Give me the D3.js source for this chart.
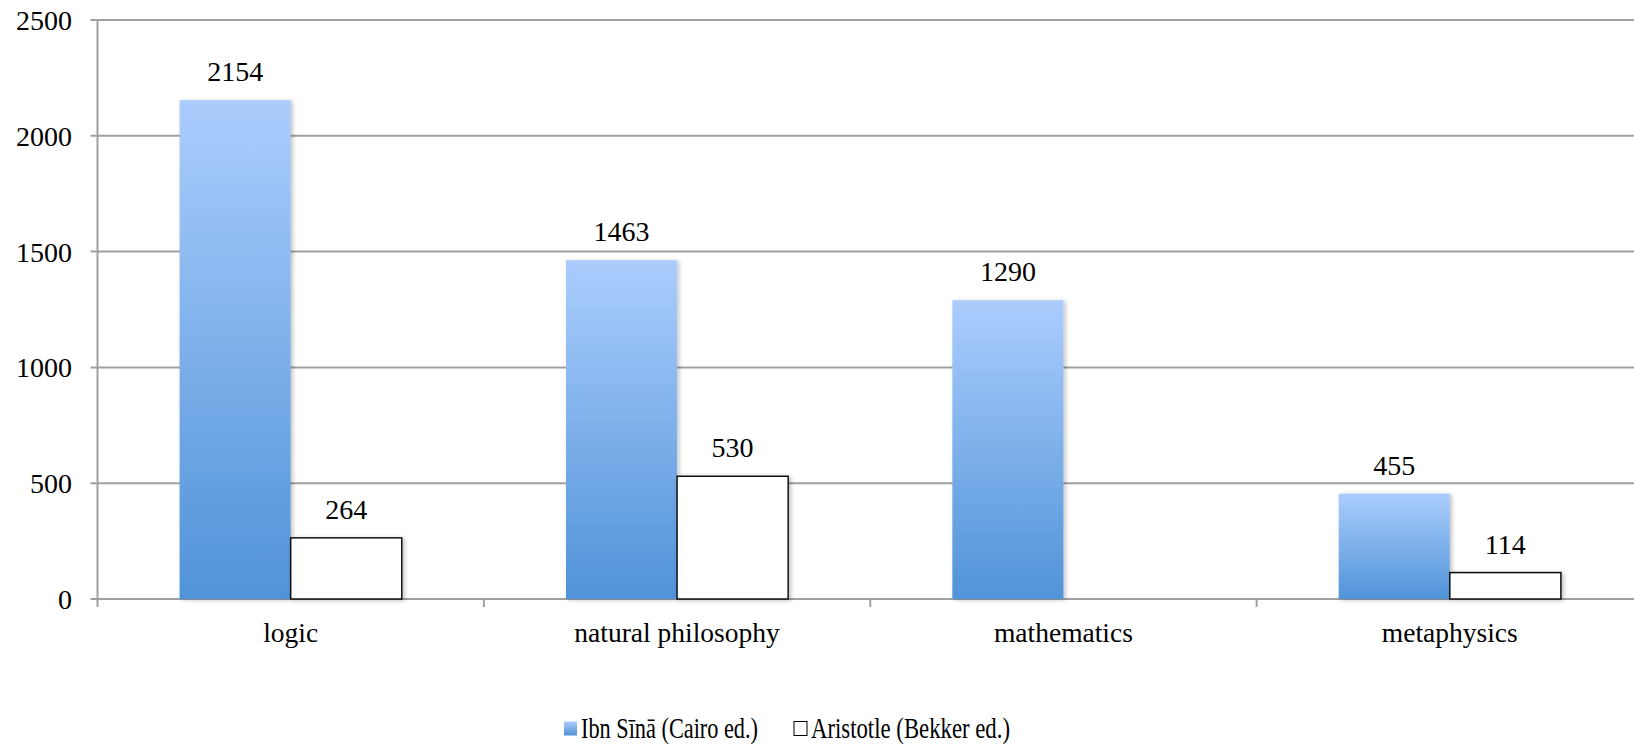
<!DOCTYPE html>
<html>
<head>
<meta charset="utf-8">
<script src="https://cdn.jsdelivr.net/npm/d3@7"></script>
<style>
  html, body { margin: 0; padding: 0; background: #ffffff; }
  svg { display: block; }
  .serif { font-family: "Liberation Serif", "Tinos", "DejaVu Serif", serif; }
</style>
</head>
<body>
<svg id="chart" width="1634" height="748"></svg>
<script>
// Page counts per discipline
const categories = ["logic", "natural philosophy", "mathematics", "metaphysics"];
const ibnSina = [2154, 1463, 1290, 455];
const aristotle = [264, 530, null, 114];
const seriesNames = ["Ibn Sīnā (Cairo ed.)", "Aristotle (Bekker ed.)"];
const yTicks = [0, 500, 1000, 1500, 2000, 2500];

const svg = d3.select("#chart");
const W = 1634, H = 748;
const plot = { left: 97.5, right: 1643, top: 20, bottom: 599 };

const x = d3.scaleBand().domain(categories).range([plot.left, plot.right]).paddingInner(0).paddingOuter(0);
const y = d3.scaleLinear().domain([0, 2500]).range([plot.bottom, plot.top]);

const defs = svg.append("defs");
const grad = defs.append("linearGradient")
  .attr("id", "blueGrad").attr("x1", 0).attr("y1", 0).attr("x2", 0).attr("y2", 1);
grad.append("stop").attr("offset", "0%").attr("stop-color", "#abcdfd");
grad.append("stop").attr("offset", "100%").attr("stop-color", "#5093d8");

const shadow = defs.append("filter").attr("id", "shadow")
  .attr("x", "-10%").attr("y", "-10%").attr("width", "130%").attr("height", "130%");
shadow.append("feDropShadow").attr("dx", 2).attr("dy", 1).attr("stdDeviation", 2)
  .attr("flood-color", "#000").attr("flood-opacity", 0.25);

// Horizontal gridlines (clipped at the page edge)
svg.append("g").selectAll("line").data(yTicks).join("line")
  .attr("x1", plot.left - 7).attr("x2", W)
  .attr("y1", d => y(d)).attr("y2", d => y(d))
  .attr("stroke", "#a0a0a0").attr("stroke-width", 2);

// Y axis line
svg.append("line")
  .attr("x1", plot.left).attr("x2", plot.left)
  .attr("y1", plot.top).attr("y2", plot.bottom + 8)
  .attr("stroke", "#a0a0a0").attr("stroke-width", 2);

// Category boundary ticks along x axis
const bounds = categories.map(c => x(c)).concat([x(categories[categories.length - 1]) + x.bandwidth()]);
svg.append("g").selectAll("line").data(bounds.slice(1)).join("line")
  .attr("x1", d => d).attr("x2", d => d)
  .attr("y1", plot.bottom).attr("y2", plot.bottom + 8)
  .attr("stroke", "#a0a0a0").attr("stroke-width", 2);

// Y tick labels
svg.append("g").selectAll("text").data(yTicks).join("text")
  .attr("class", "serif")
  .attr("x", 72).attr("y", d => y(d) + 10)
  .attr("text-anchor", "end")
  .attr("font-size", 28).attr("fill", "#000")
  .text(d => d);

// Bars: two per category, centred in each band
const groupWidth = x.bandwidth() * 0.575;
const barW = groupWidth / 2;
const inner = d3.scaleBand().domain([0, 1]).range([0, groupWidth]);
const offset = (x.bandwidth() - groupWidth) / 2;

const rows = categories.map((c, i) => ({ c, vals: [ibnSina[i], aristotle[i]] }));

const barsG = svg.append("g");
rows.forEach(r => {
  r.vals.forEach((v, s) => {
    if (v == null) return;
    const bx = x(r.c) + offset + inner(s);
    barsG.append("rect")
      .attr("x", bx).attr("y", y(v))
      .attr("width", barW).attr("height", y(0) - y(v))
      .attr("fill", s === 0 ? "url(#blueGrad)" : "#ffffff")
      .attr("stroke", s === 0 ? "none" : "#111")
      .attr("stroke-width", s === 0 ? 0 : 1.5)
      .attr("filter", "url(#shadow)");
    barsG.append("text")
      .attr("class", "serif")
      .attr("x", bx + barW / 2).attr("y", y(v) - 19)
      .attr("text-anchor", "middle")
      .attr("font-size", 28).attr("fill", "#000")
      .text(v);
  });
});

// Category labels
svg.append("g").selectAll("text").data(categories).join("text")
  .attr("class", "serif")
  .attr("x", d => x(d) + x.bandwidth() / 2).attr("y", 642)
  .attr("text-anchor", "middle")
  .attr("font-size", 27.5).attr("fill", "#000")
  .text(d => d);

// Legend
const legend = [
  { name: seriesNames[0], sx: 564, tx: 581, tw: 177 },
  { name: seriesNames[1], sx: 794, tx: 811, tw: 199 }
];
legend.forEach((l, i) => {
  svg.append("rect")
    .attr("x", l.sx).attr("y", 721.5).attr("width", 13).attr("height", 14)
    .attr("fill", i === 0 ? "url(#blueGrad)" : "#ffffff")
    .attr("stroke", i === 0 ? "none" : "#000").attr("stroke-width", 1);
  svg.append("text")
    .attr("class", "serif")
    .attr("x", l.tx).attr("y", 738)
    .attr("font-size", 29).attr("fill", "#000")
    .attr("textLength", l.tw).attr("lengthAdjust", "spacingAndGlyphs")
    .text(l.name);
});
</script>
</body>
</html>
